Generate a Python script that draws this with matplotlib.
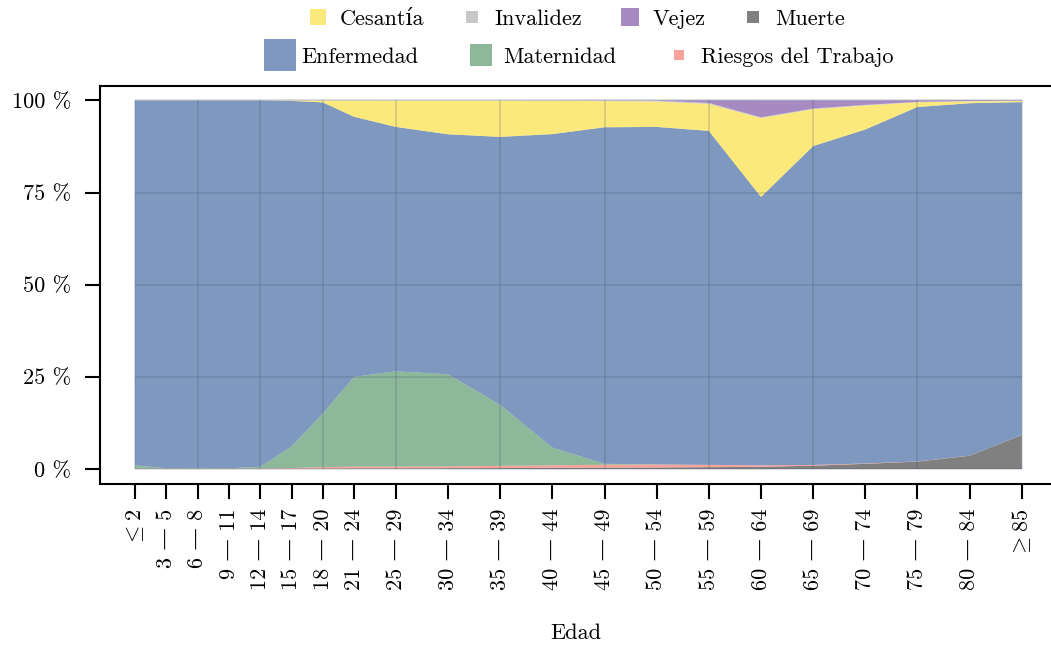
import matplotlib
matplotlib.use('agg')
import matplotlib.pyplot as plt
from matplotlib.lines import Line2D

plt.rcParams['font.family'] = ['cmr10', 'DejaVu Serif']
plt.rcParams['mathtext.fontset'] = 'cm'
plt.rcParams['axes.formatter.use_mathtext'] = True

# edad inicial de cada grupo y su etiqueta
edades = [0, 3, 6, 9, 12, 15, 18, 21, 25, 30, 35, 40, 45, 50, 55, 60, 65, 70, 75, 80, 85]
grupos = [r'$\leq 2$', '3 — 5', '6 — 8', '9 — 11', '12 — 14', '15 — 17', '18 — 20',
          '21 — 24', '25 — 29', '30 — 34', '35 — 39', '40 — 44', '45 — 49', '50 — 54',
          '55 — 59', '60 — 64', '65 — 69', '70 — 74', '75 — 79', '80 — 84', r'$\geq 85$']

# porcentajes por tipo de incapacidad (de abajo hacia arriba)
muerte = [0.1, 0.05, 0.05, 0.05, 0.05, 0.05, 0.1, 0.15, 0.15, 0.2, 0.25, 0.3, 0.35, 0.4,
          0.5, 0.6, 0.9, 1.4, 2.0, 3.6, 9.2]
riesgos = [0.05, 0.05, 0.05, 0.05, 0.1, 0.2, 0.4, 0.5, 0.5, 0.5, 0.6, 0.7, 0.8, 0.8,
           0.6, 0.4, 0.2, 0.1, 0.05, 0.03, 0.02]
maternidad = [0.85, 0.1, 0.2, 0.1, 0.45, 5.85, 14.6, 24.35, 25.85, 25.0, 16.55, 4.8, 0.25,
              0.05, 0.02, 0.0, 0.0, 0.0, 0.0, 0.0, 0.0]
enfermedad = [98.95, 99.75, 99.65, 99.75, 99.35, 93.75, 84.35, 70.55, 66.3, 65.1, 72.7,
              85.05, 91.3, 91.55, 90.6, 72.8, 86.5, 90.6, 96.15, 95.6, 90.3]
cesantia = [0.0, 0.0, 0.0, 0.0, 0.0, 0.1, 0.5, 4.4, 7.1, 9.1, 9.8, 9.0, 7.1, 6.9, 7.3,
            21.4, 10.0, 6.5, 1.3, 0.5, 0.3]
invalidez = [0.05, 0.05, 0.05, 0.05, 0.05, 0.05, 0.05, 0.05, 0.1, 0.1, 0.1, 0.15, 0.15,
             0.2, 0.3, 0.2, 0.2, 0.2, 0.1, 0.1, 0.1]
vejez = [0.0, 0.0, 0.0, 0.0, 0.0, 0.0, 0.0, 0.0, 0.0, 0.0, 0.0, 0.0, 0.05, 0.1, 0.7,
         4.6, 2.2, 1.2, 0.4, 0.2, 0.1]

colores = {'Muerte': '#4a4a4a', 'Riesgos del Trabajo': '#f57c73', 'Maternidad': '#5f9a70',
           'Enfermedad': '#486da4', 'Cesantía': '#fce044', 'Invalidez': '#b0b0b0',
           'Vejez': '#8459a9'}
alfa = 0.7
fs = 16

fig = plt.figure(figsize=(10.51, 6.47), dpi=100)
ax = fig.add_axes([100 / 1051, 163 / 647, 951 / 1051, 398 / 647])

ax.stackplot(edades, muerte, riesgos, maternidad, enfermedad, cesantia, invalidez, vejez,
             colors=[colores['Muerte'], colores['Riesgos del Trabajo'], colores['Maternidad'],
                     colores['Enfermedad'], colores['Cesantía'], colores['Invalidez'],
                     colores['Vejez']],
             alpha=alfa, linewidth=0, zorder=1)

# rejilla solo sobre la zona de datos
yt = [0, 25, 50, 75, 100]
ax.vlines(edades[::2], yt[0], yt[-1], color='#3c4b64', alpha=0.2, lw=1.3, zorder=2)
ax.hlines(yt, edades[0], edades[-1], color='#3c4b64', alpha=0.2, lw=1.3, zorder=2)

ax.set_xlim(-3.36, 87.8)
ax.set_ylim(-4.07, 103.9)
ax.set_xticks(edades)
ax.set_xticklabels(grupos, rotation=90, fontsize=fs)
ax.set_yticks(yt)
ax.set_yticklabels(['0 %', '25 %', '50 %', '75 %', '100 %'], fontsize=fs)
ax.tick_params(direction='out', length=11, width=1.5, pad=10)
ax.tick_params(axis='x', pad=7)
ax.spines['right'].set_visible(False)
for s in ['left', 'bottom', 'top']:
    ax.spines[s].set_linewidth(1.5)
ax.set_xlabel('Edad', fontsize=fs, labelpad=24)


def marca(nombre, ms):
    return Line2D([], [], marker='s', linestyle='none', markersize=ms,
                  markerfacecolor=colores[nombre], markeredgewidth=0, alpha=alfa)


fila1 = [('Cesantía', 11.5), ('Invalidez', 9), ('Vejez', 13.5), ('Muerte', 9)]
fila2 = [('Enfermedad', 23), ('Maternidad', 15.5), ('Riesgos del Trabajo', 7.5)]

leg1 = fig.legend([marca(n, m) for n, m in fila1], [n for n, m in fila1], ncol=4,
                  loc='center', bbox_to_anchor=(0.549, 0.9706), frameon=False, fontsize=fs,
                  handlelength=0.8, handletextpad=0.6, columnspacing=1.75)
leg2 = fig.legend([marca(n, m) for n, m in fila2], [n for n, m in fila2], ncol=3,
                  loc='center', bbox_to_anchor=(0.5538, 0.912), frameon=False, fontsize=fs,
                  handlelength=0.8, handletextpad=0.6, columnspacing=2.4)

fig.savefig('out.png', dpi=100)
